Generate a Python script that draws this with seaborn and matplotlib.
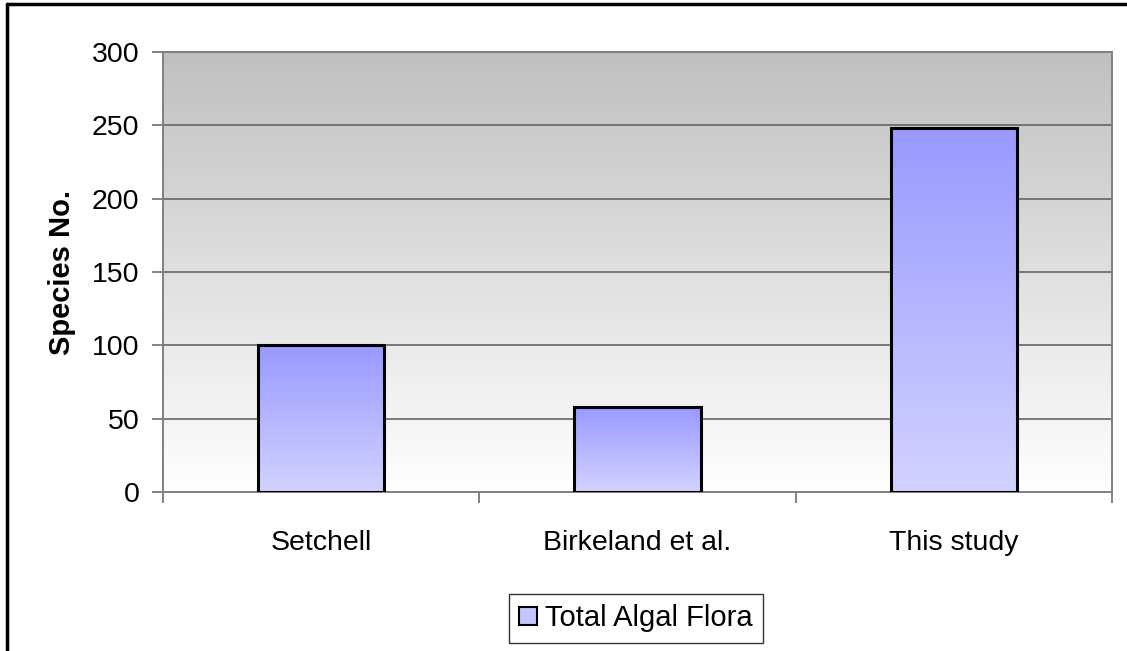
import numpy as np
import matplotlib as mpl
mpl.use('Agg')
import matplotlib.pyplot as plt
import seaborn as sns
from matplotlib.colors import LinearSegmentedColormap
from matplotlib.patches import Patch
from matplotlib.lines import Line2D

# data
studies = ['Setchell', 'Birkeland et al.', 'This study']
species = [100, 58, 248]
series_name = 'Total Algal Flora'
y_ticks = [0, 50, 100, 150, 200, 250, 300]

sns.set_style('white')
plt.rcParams['font.family'] = ['Liberation Sans', 'DejaVu Sans']
plt.rcParams['font.size'] = 20
plt.rcParams['text.color'] = 'black'
plt.rcParams['xtick.color'] = 'black'
plt.rcParams['ytick.color'] = 'black'
plt.rcParams['axes.labelcolor'] = 'black'

fig = plt.figure(figsize=(11.27, 6.51), dpi=100)
ax = fig.add_axes([163 / 1127, 1 - 492 / 651, (1112 - 163) / 1127, (492 - 52) / 651])

sns.barplot(x=studies, y=species, width=0.4, color='#9999ff', ax=ax)
ax.set_xlim(-0.5, 2.5)
ax.set_ylim(0, 300)

# gradient fill inside each bar, Excel style
bar_cmap = LinearSegmentedColormap.from_list('bar', ['#d2d2ff', '#9999ff'])
grad = np.linspace(0, 1, 256).reshape(-1, 1)
for p in ax.patches:
    x0, w, h = p.get_x(), p.get_width(), p.get_height()
    ax.imshow(grad, extent=[x0, x0 + w, 0, h], origin='lower', aspect='auto',
              cmap=bar_cmap, zorder=2)
    p.set_facecolor('none')
    p.set_edgecolor('black')
    p.set_linewidth(2.2)
    p.set_zorder(3)

# grey-to-white background of the plot area
bg_cmap = LinearSegmentedColormap.from_list('bg', ['#ffffff', '#c0c0c0'])
ax.imshow(grad, extent=[-0.5, 2.5, 0, 300], origin='lower', aspect='auto',
          cmap=bg_cmap, zorder=0)
ax.set_xlim(-0.5, 2.5)
ax.set_ylim(0, 300)

ax.set_axisbelow(True)
ax.yaxis.grid(True, color='#5a5a5a', linewidth=1.1)
ax.xaxis.grid(False)
ax.set_yticks(y_ticks)
ax.set_xticks([0, 1, 2])
ax.set_xticklabels(studies)
ax.set_xticks([-0.5, 0.5, 1.5, 2.5], minor=True)
ax.tick_params(axis='x', which='major', length=0, pad=27, labelsize=20.5, labelcolor='black')
ax.tick_params(axis='x', which='minor', length=8, width=1.1, color='#606060', direction='out', bottom=True)
ax.tick_params(axis='y', length=8, width=1.1, color='#606060', direction='out', left=True,
               pad=9, labelsize=20.5, labelcolor='black')
for s in ax.spines.values():
    s.set_color('#808080')
    s.set_linewidth(1.4)
ax.set_xlabel('')
ax.set_ylabel('Species No.', fontsize=21, fontweight='bold', color='black')
ax.yaxis.set_label_coords(-0.092, 0.5)

handle = Patch(facecolor='#c4c4ff', edgecolor='black', linewidth=1.5)
leg = fig.legend([handle], [series_name], loc='center',
                 bbox_to_anchor=(636 / 1127, 1 - 618.5 / 651), fontsize=21,
                 frameon=True, fancybox=False, handlelength=0.6, handleheight=0.6,
                 handletextpad=0.3, borderpad=0.35)
leg.get_frame().set_edgecolor('black')
leg.get_frame().set_linewidth(1.0)
for t in leg.get_texts():
    t.set_color('black')

# outer chart frame (only left and top edges fall inside the picture)
fig.add_artist(Line2D([7 / 1127, 7 / 1127], [0, 1 - 4 / 651], color='black', linewidth=2.5,
                      transform=fig.transFigure))
fig.add_artist(Line2D([7 / 1127, 1], [1 - 4 / 651, 1 - 4 / 651], color='black', linewidth=2.5,
                      transform=fig.transFigure))

fig.savefig('out.png', dpi=100, facecolor='white')
